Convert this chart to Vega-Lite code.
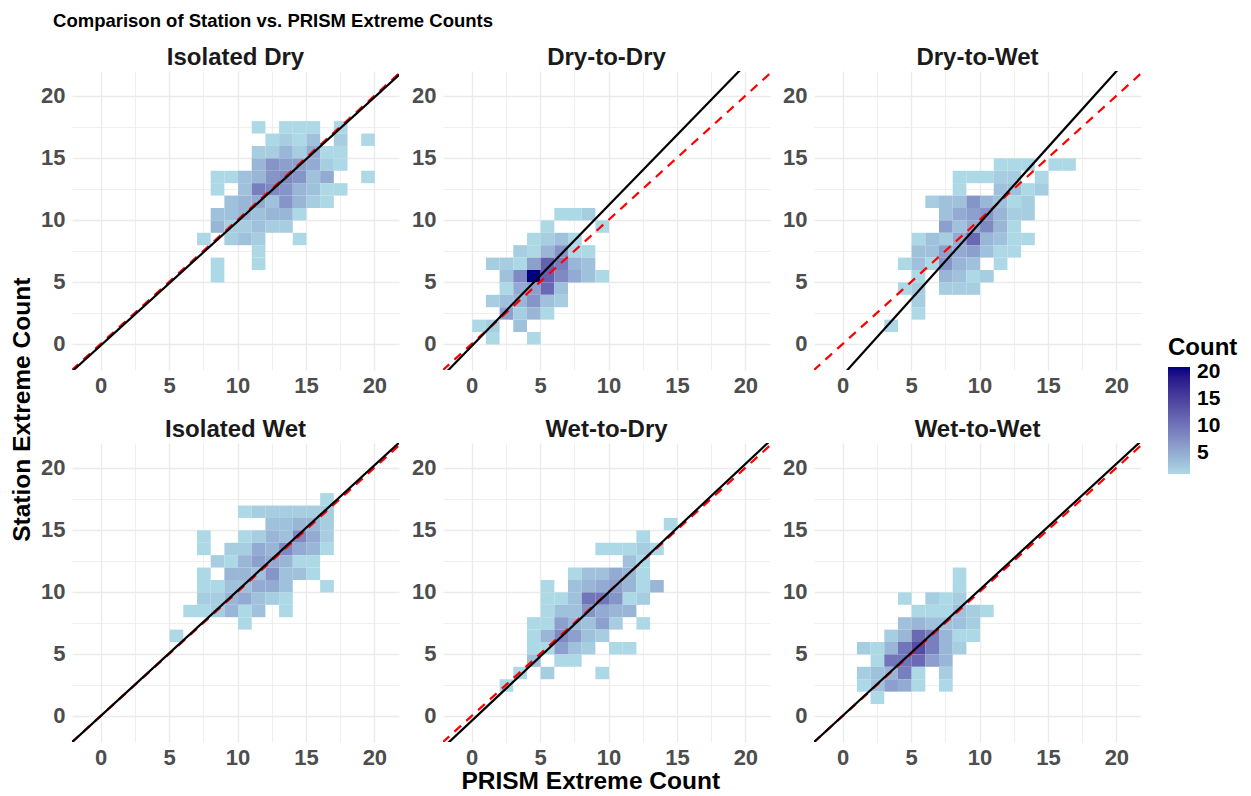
{
"$schema": "https://vega.github.io/schema/vega-lite/v6.json",
"background": "white",
"padding": {"left": 10, "top": 11, "right": 5, "bottom": 0},
"config": {
  "font": "Liberation Sans",
  "view": {"stroke": null},
  "axis": {"ticks": false, "domain": false, "grid": true, "zindex": 0, "labelFontSize": 22, "labelFontWeight": "bold", "labelColor": "#4D4D4D", "gridColor": "#EBEBEB", "labelOverlap": false, "labelFlush": false},
  "axisX": {"labelPadding": 5},
  "axisY": {"labelPadding": 7}
},
"title": {"text": "Comparison of Station vs. PRISM Extreme Counts", "anchor": "start", "fontSize": 18.5, "fontWeight": "bold", "color": "black", "dx": 43, "offset": 16},
"vconcat": [{
  "title": {"text": "Station Extreme Count", "orient": "left", "anchor": "middle", "fontSize": 24.5, "fontWeight": "bold", "color": "black", "offset": 5, "dx": 10},
  "vconcat": [{
    "title": {"text": "PRISM Extreme Count", "orient": "bottom", "anchor": "middle", "fontSize": 24.5, "fontWeight": "bold", "color": "black", "offset": 2},
    "data": {"values": [
{"p":"Isolated Dry","k":"c","x":11,"y":17,"n":1},{"p":"Isolated Dry","k":"c","x":13,"y":17,"n":1},{"p":"Isolated Dry","k":"c","x":14,"y":17,"n":1},{"p":"Isolated Dry","k":"c","x":15,"y":17,"n":1},{"p":"Isolated Dry","k":"c","x":17,"y":17,"n":1},
{"p":"Isolated Dry","k":"c","x":12,"y":16,"n":1},{"p":"Isolated Dry","k":"c","x":13,"y":16,"n":2},{"p":"Isolated Dry","k":"c","x":14,"y":16,"n":1},{"p":"Isolated Dry","k":"c","x":15,"y":16,"n":3},{"p":"Isolated Dry","k":"c","x":17,"y":16,"n":2},{"p":"Isolated Dry","k":"c","x":19,"y":16,"n":1},
{"p":"Isolated Dry","k":"c","x":11,"y":15,"n":2},{"p":"Isolated Dry","k":"c","x":12,"y":15,"n":2},{"p":"Isolated Dry","k":"c","x":13,"y":15,"n":4},{"p":"Isolated Dry","k":"c","x":14,"y":15,"n":2},{"p":"Isolated Dry","k":"c","x":15,"y":15,"n":5},{"p":"Isolated Dry","k":"c","x":16,"y":15,"n":1},{"p":"Isolated Dry","k":"c","x":17,"y":15,"n":1},
{"p":"Isolated Dry","k":"c","x":11,"y":14,"n":4},{"p":"Isolated Dry","k":"c","x":12,"y":14,"n":7},{"p":"Isolated Dry","k":"c","x":13,"y":14,"n":6},{"p":"Isolated Dry","k":"c","x":14,"y":14,"n":6},{"p":"Isolated Dry","k":"c","x":15,"y":14,"n":5},{"p":"Isolated Dry","k":"c","x":16,"y":14,"n":2},{"p":"Isolated Dry","k":"c","x":17,"y":14,"n":1},
{"p":"Isolated Dry","k":"c","x":8,"y":13,"n":1},{"p":"Isolated Dry","k":"c","x":9,"y":13,"n":1},{"p":"Isolated Dry","k":"c","x":10,"y":13,"n":3},{"p":"Isolated Dry","k":"c","x":11,"y":13,"n":4},{"p":"Isolated Dry","k":"c","x":12,"y":13,"n":7},{"p":"Isolated Dry","k":"c","x":13,"y":13,"n":8},{"p":"Isolated Dry","k":"c","x":14,"y":13,"n":7},{"p":"Isolated Dry","k":"c","x":15,"y":13,"n":3},{"p":"Isolated Dry","k":"c","x":16,"y":13,"n":5},{"p":"Isolated Dry","k":"c","x":19,"y":13,"n":1},
{"p":"Isolated Dry","k":"c","x":8,"y":12,"n":1},{"p":"Isolated Dry","k":"c","x":10,"y":12,"n":3},{"p":"Isolated Dry","k":"c","x":11,"y":12,"n":9},{"p":"Isolated Dry","k":"c","x":12,"y":12,"n":8},{"p":"Isolated Dry","k":"c","x":13,"y":12,"n":7},{"p":"Isolated Dry","k":"c","x":14,"y":12,"n":4},{"p":"Isolated Dry","k":"c","x":15,"y":12,"n":3},{"p":"Isolated Dry","k":"c","x":16,"y":12,"n":1},{"p":"Isolated Dry","k":"c","x":17,"y":12,"n":1},
{"p":"Isolated Dry","k":"c","x":9,"y":11,"n":3},{"p":"Isolated Dry","k":"c","x":10,"y":11,"n":4},{"p":"Isolated Dry","k":"c","x":11,"y":11,"n":5},{"p":"Isolated Dry","k":"c","x":12,"y":11,"n":3},{"p":"Isolated Dry","k":"c","x":13,"y":11,"n":7},{"p":"Isolated Dry","k":"c","x":14,"y":11,"n":4},{"p":"Isolated Dry","k":"c","x":15,"y":11,"n":2},{"p":"Isolated Dry","k":"c","x":16,"y":11,"n":1},
{"p":"Isolated Dry","k":"c","x":8,"y":10,"n":3},{"p":"Isolated Dry","k":"c","x":9,"y":10,"n":3},{"p":"Isolated Dry","k":"c","x":10,"y":10,"n":4},{"p":"Isolated Dry","k":"c","x":11,"y":10,"n":3},{"p":"Isolated Dry","k":"c","x":12,"y":10,"n":4},{"p":"Isolated Dry","k":"c","x":13,"y":10,"n":4},{"p":"Isolated Dry","k":"c","x":14,"y":10,"n":1},
{"p":"Isolated Dry","k":"c","x":8,"y":9,"n":4},{"p":"Isolated Dry","k":"c","x":9,"y":9,"n":2},{"p":"Isolated Dry","k":"c","x":10,"y":9,"n":2},{"p":"Isolated Dry","k":"c","x":11,"y":9,"n":3},{"p":"Isolated Dry","k":"c","x":12,"y":9,"n":2},{"p":"Isolated Dry","k":"c","x":13,"y":9,"n":2},
{"p":"Isolated Dry","k":"c","x":7,"y":8,"n":1},{"p":"Isolated Dry","k":"c","x":9,"y":8,"n":2},{"p":"Isolated Dry","k":"c","x":10,"y":8,"n":3},{"p":"Isolated Dry","k":"c","x":11,"y":8,"n":2},{"p":"Isolated Dry","k":"c","x":14,"y":8,"n":1},
{"p":"Isolated Dry","k":"c","x":11,"y":7,"n":1},{"p":"Isolated Dry","k":"c","x":8,"y":6,"n":1},{"p":"Isolated Dry","k":"c","x":11,"y":6,"n":1},{"p":"Isolated Dry","k":"c","x":8,"y":5,"n":1},

{"p":"Dry-to-Dry","k":"c","x":6,"y":10,"n":1},{"p":"Dry-to-Dry","k":"c","x":7,"y":10,"n":1},{"p":"Dry-to-Dry","k":"c","x":8,"y":10,"n":2},
{"p":"Dry-to-Dry","k":"c","x":5,"y":9,"n":1},{"p":"Dry-to-Dry","k":"c","x":9,"y":9,"n":1},
{"p":"Dry-to-Dry","k":"c","x":4,"y":8,"n":1},{"p":"Dry-to-Dry","k":"c","x":5,"y":8,"n":2},{"p":"Dry-to-Dry","k":"c","x":6,"y":8,"n":3},{"p":"Dry-to-Dry","k":"c","x":7,"y":8,"n":1},
{"p":"Dry-to-Dry","k":"c","x":3,"y":7,"n":2},{"p":"Dry-to-Dry","k":"c","x":4,"y":7,"n":1},{"p":"Dry-to-Dry","k":"c","x":5,"y":7,"n":4},{"p":"Dry-to-Dry","k":"c","x":6,"y":7,"n":7},{"p":"Dry-to-Dry","k":"c","x":7,"y":7,"n":1},{"p":"Dry-to-Dry","k":"c","x":8,"y":7,"n":1},
{"p":"Dry-to-Dry","k":"c","x":1,"y":6,"n":2},{"p":"Dry-to-Dry","k":"c","x":2,"y":6,"n":2},{"p":"Dry-to-Dry","k":"c","x":3,"y":6,"n":1},{"p":"Dry-to-Dry","k":"c","x":4,"y":6,"n":6},{"p":"Dry-to-Dry","k":"c","x":5,"y":6,"n":12},{"p":"Dry-to-Dry","k":"c","x":6,"y":6,"n":9},{"p":"Dry-to-Dry","k":"c","x":7,"y":6,"n":4},{"p":"Dry-to-Dry","k":"c","x":8,"y":6,"n":3},
{"p":"Dry-to-Dry","k":"c","x":2,"y":5,"n":3},{"p":"Dry-to-Dry","k":"c","x":3,"y":5,"n":8},{"p":"Dry-to-Dry","k":"c","x":4,"y":5,"n":21},{"p":"Dry-to-Dry","k":"c","x":5,"y":5,"n":12},{"p":"Dry-to-Dry","k":"c","x":6,"y":5,"n":8},{"p":"Dry-to-Dry","k":"c","x":7,"y":5,"n":5},{"p":"Dry-to-Dry","k":"c","x":8,"y":5,"n":3},{"p":"Dry-to-Dry","k":"c","x":9,"y":5,"n":1},
{"p":"Dry-to-Dry","k":"c","x":2,"y":4,"n":1},{"p":"Dry-to-Dry","k":"c","x":3,"y":4,"n":5},{"p":"Dry-to-Dry","k":"c","x":4,"y":4,"n":6},{"p":"Dry-to-Dry","k":"c","x":5,"y":4,"n":11},{"p":"Dry-to-Dry","k":"c","x":6,"y":4,"n":3},
{"p":"Dry-to-Dry","k":"c","x":1,"y":3,"n":2},{"p":"Dry-to-Dry","k":"c","x":2,"y":3,"n":3},{"p":"Dry-to-Dry","k":"c","x":3,"y":3,"n":4},{"p":"Dry-to-Dry","k":"c","x":4,"y":3,"n":7},{"p":"Dry-to-Dry","k":"c","x":5,"y":3,"n":3},{"p":"Dry-to-Dry","k":"c","x":6,"y":3,"n":2},
{"p":"Dry-to-Dry","k":"c","x":2,"y":2,"n":6},{"p":"Dry-to-Dry","k":"c","x":3,"y":2,"n":2},{"p":"Dry-to-Dry","k":"c","x":4,"y":2,"n":4},{"p":"Dry-to-Dry","k":"c","x":5,"y":2,"n":1},
{"p":"Dry-to-Dry","k":"c","x":0,"y":1,"n":1},{"p":"Dry-to-Dry","k":"c","x":1,"y":1,"n":2},{"p":"Dry-to-Dry","k":"c","x":3,"y":1,"n":3},
{"p":"Dry-to-Dry","k":"c","x":1,"y":0,"n":1},{"p":"Dry-to-Dry","k":"c","x":4,"y":0,"n":1},

{"p":"Dry-to-Wet","k":"c","x":11,"y":14,"n":1},{"p":"Dry-to-Wet","k":"c","x":12,"y":14,"n":1},{"p":"Dry-to-Wet","k":"c","x":13,"y":14,"n":1},{"p":"Dry-to-Wet","k":"c","x":15,"y":14,"n":1},{"p":"Dry-to-Wet","k":"c","x":16,"y":14,"n":1},
{"p":"Dry-to-Wet","k":"c","x":8,"y":13,"n":1},{"p":"Dry-to-Wet","k":"c","x":9,"y":13,"n":1},{"p":"Dry-to-Wet","k":"c","x":10,"y":13,"n":1},{"p":"Dry-to-Wet","k":"c","x":11,"y":13,"n":2},{"p":"Dry-to-Wet","k":"c","x":12,"y":13,"n":2},{"p":"Dry-to-Wet","k":"c","x":14,"y":13,"n":1},
{"p":"Dry-to-Wet","k":"c","x":8,"y":12,"n":1},{"p":"Dry-to-Wet","k":"c","x":11,"y":12,"n":3},{"p":"Dry-to-Wet","k":"c","x":12,"y":12,"n":3},{"p":"Dry-to-Wet","k":"c","x":13,"y":12,"n":1},{"p":"Dry-to-Wet","k":"c","x":14,"y":12,"n":2},
{"p":"Dry-to-Wet","k":"c","x":6,"y":11,"n":2},{"p":"Dry-to-Wet","k":"c","x":7,"y":11,"n":3},{"p":"Dry-to-Wet","k":"c","x":8,"y":11,"n":3},{"p":"Dry-to-Wet","k":"c","x":9,"y":11,"n":7},{"p":"Dry-to-Wet","k":"c","x":10,"y":11,"n":4},{"p":"Dry-to-Wet","k":"c","x":11,"y":11,"n":3},{"p":"Dry-to-Wet","k":"c","x":12,"y":11,"n":1},{"p":"Dry-to-Wet","k":"c","x":13,"y":11,"n":2},
{"p":"Dry-to-Wet","k":"c","x":7,"y":10,"n":3},{"p":"Dry-to-Wet","k":"c","x":8,"y":10,"n":5},{"p":"Dry-to-Wet","k":"c","x":9,"y":10,"n":6},{"p":"Dry-to-Wet","k":"c","x":10,"y":10,"n":7},{"p":"Dry-to-Wet","k":"c","x":11,"y":10,"n":4},{"p":"Dry-to-Wet","k":"c","x":12,"y":10,"n":2},{"p":"Dry-to-Wet","k":"c","x":13,"y":10,"n":2},
{"p":"Dry-to-Wet","k":"c","x":7,"y":9,"n":6},{"p":"Dry-to-Wet","k":"c","x":8,"y":9,"n":3},{"p":"Dry-to-Wet","k":"c","x":9,"y":9,"n":5},{"p":"Dry-to-Wet","k":"c","x":10,"y":9,"n":8},{"p":"Dry-to-Wet","k":"c","x":11,"y":9,"n":4},{"p":"Dry-to-Wet","k":"c","x":12,"y":9,"n":1},
{"p":"Dry-to-Wet","k":"c","x":5,"y":8,"n":1},{"p":"Dry-to-Wet","k":"c","x":6,"y":8,"n":3},{"p":"Dry-to-Wet","k":"c","x":7,"y":8,"n":2},{"p":"Dry-to-Wet","k":"c","x":8,"y":8,"n":5},{"p":"Dry-to-Wet","k":"c","x":9,"y":8,"n":11},{"p":"Dry-to-Wet","k":"c","x":10,"y":8,"n":4},{"p":"Dry-to-Wet","k":"c","x":11,"y":8,"n":3},{"p":"Dry-to-Wet","k":"c","x":12,"y":8,"n":1},{"p":"Dry-to-Wet","k":"c","x":13,"y":8,"n":1},
{"p":"Dry-to-Wet","k":"c","x":5,"y":7,"n":3},{"p":"Dry-to-Wet","k":"c","x":6,"y":7,"n":3},{"p":"Dry-to-Wet","k":"c","x":7,"y":7,"n":6},{"p":"Dry-to-Wet","k":"c","x":8,"y":7,"n":5},{"p":"Dry-to-Wet","k":"c","x":9,"y":7,"n":6},{"p":"Dry-to-Wet","k":"c","x":10,"y":7,"n":3},{"p":"Dry-to-Wet","k":"c","x":11,"y":7,"n":1},{"p":"Dry-to-Wet","k":"c","x":12,"y":7,"n":1},
{"p":"Dry-to-Wet","k":"c","x":4,"y":6,"n":1},{"p":"Dry-to-Wet","k":"c","x":5,"y":6,"n":3},{"p":"Dry-to-Wet","k":"c","x":6,"y":6,"n":1},{"p":"Dry-to-Wet","k":"c","x":7,"y":6,"n":7},{"p":"Dry-to-Wet","k":"c","x":8,"y":6,"n":4},{"p":"Dry-to-Wet","k":"c","x":9,"y":6,"n":3},{"p":"Dry-to-Wet","k":"c","x":11,"y":6,"n":1},
{"p":"Dry-to-Wet","k":"c","x":5,"y":5,"n":1},{"p":"Dry-to-Wet","k":"c","x":7,"y":5,"n":4},{"p":"Dry-to-Wet","k":"c","x":8,"y":5,"n":3},{"p":"Dry-to-Wet","k":"c","x":9,"y":5,"n":1},{"p":"Dry-to-Wet","k":"c","x":10,"y":5,"n":2},
{"p":"Dry-to-Wet","k":"c","x":4,"y":4,"n":1},{"p":"Dry-to-Wet","k":"c","x":5,"y":4,"n":2},{"p":"Dry-to-Wet","k":"c","x":7,"y":4,"n":2},{"p":"Dry-to-Wet","k":"c","x":8,"y":4,"n":2},{"p":"Dry-to-Wet","k":"c","x":9,"y":4,"n":2},
{"p":"Dry-to-Wet","k":"c","x":5,"y":3,"n":2},{"p":"Dry-to-Wet","k":"c","x":5,"y":2,"n":1},{"p":"Dry-to-Wet","k":"c","x":3,"y":1,"n":1},

{"p":"Isolated Wet","k":"c","x":16,"y":17,"n":1},
{"p":"Isolated Wet","k":"c","x":10,"y":16,"n":1},{"p":"Isolated Wet","k":"c","x":11,"y":16,"n":2},{"p":"Isolated Wet","k":"c","x":12,"y":16,"n":2},{"p":"Isolated Wet","k":"c","x":13,"y":16,"n":2},{"p":"Isolated Wet","k":"c","x":14,"y":16,"n":2},{"p":"Isolated Wet","k":"c","x":15,"y":16,"n":2},{"p":"Isolated Wet","k":"c","x":16,"y":16,"n":2},
{"p":"Isolated Wet","k":"c","x":12,"y":15,"n":3},{"p":"Isolated Wet","k":"c","x":13,"y":15,"n":3},{"p":"Isolated Wet","k":"c","x":14,"y":15,"n":4},{"p":"Isolated Wet","k":"c","x":15,"y":15,"n":4},{"p":"Isolated Wet","k":"c","x":16,"y":15,"n":2},
{"p":"Isolated Wet","k":"c","x":7,"y":14,"n":1},{"p":"Isolated Wet","k":"c","x":10,"y":14,"n":1},{"p":"Isolated Wet","k":"c","x":11,"y":14,"n":2},{"p":"Isolated Wet","k":"c","x":12,"y":14,"n":4},{"p":"Isolated Wet","k":"c","x":13,"y":14,"n":3},{"p":"Isolated Wet","k":"c","x":14,"y":14,"n":8},{"p":"Isolated Wet","k":"c","x":15,"y":14,"n":5},{"p":"Isolated Wet","k":"c","x":16,"y":14,"n":2},
{"p":"Isolated Wet","k":"c","x":7,"y":13,"n":1},{"p":"Isolated Wet","k":"c","x":9,"y":13,"n":2},{"p":"Isolated Wet","k":"c","x":10,"y":13,"n":2},{"p":"Isolated Wet","k":"c","x":11,"y":13,"n":5},{"p":"Isolated Wet","k":"c","x":12,"y":13,"n":4},{"p":"Isolated Wet","k":"c","x":13,"y":13,"n":8},{"p":"Isolated Wet","k":"c","x":14,"y":13,"n":5},{"p":"Isolated Wet","k":"c","x":15,"y":13,"n":4},{"p":"Isolated Wet","k":"c","x":16,"y":13,"n":1},
{"p":"Isolated Wet","k":"c","x":8,"y":12,"n":2},{"p":"Isolated Wet","k":"c","x":9,"y":12,"n":1},{"p":"Isolated Wet","k":"c","x":10,"y":12,"n":4},{"p":"Isolated Wet","k":"c","x":11,"y":12,"n":6},{"p":"Isolated Wet","k":"c","x":12,"y":12,"n":5},{"p":"Isolated Wet","k":"c","x":13,"y":12,"n":4},{"p":"Isolated Wet","k":"c","x":14,"y":12,"n":1},{"p":"Isolated Wet","k":"c","x":15,"y":12,"n":1},
{"p":"Isolated Wet","k":"c","x":7,"y":11,"n":1},{"p":"Isolated Wet","k":"c","x":9,"y":11,"n":4},{"p":"Isolated Wet","k":"c","x":10,"y":11,"n":4},{"p":"Isolated Wet","k":"c","x":11,"y":11,"n":3},{"p":"Isolated Wet","k":"c","x":12,"y":11,"n":7},{"p":"Isolated Wet","k":"c","x":13,"y":11,"n":3},{"p":"Isolated Wet","k":"c","x":14,"y":11,"n":3},{"p":"Isolated Wet","k":"c","x":15,"y":11,"n":1},
{"p":"Isolated Wet","k":"c","x":7,"y":10,"n":1},{"p":"Isolated Wet","k":"c","x":8,"y":10,"n":1},{"p":"Isolated Wet","k":"c","x":9,"y":10,"n":3},{"p":"Isolated Wet","k":"c","x":10,"y":10,"n":3},{"p":"Isolated Wet","k":"c","x":11,"y":10,"n":5},{"p":"Isolated Wet","k":"c","x":12,"y":10,"n":5},{"p":"Isolated Wet","k":"c","x":13,"y":10,"n":3},{"p":"Isolated Wet","k":"c","x":16,"y":10,"n":1},
{"p":"Isolated Wet","k":"c","x":7,"y":9,"n":2},{"p":"Isolated Wet","k":"c","x":8,"y":9,"n":2},{"p":"Isolated Wet","k":"c","x":9,"y":9,"n":4},{"p":"Isolated Wet","k":"c","x":10,"y":9,"n":5},{"p":"Isolated Wet","k":"c","x":11,"y":9,"n":3},{"p":"Isolated Wet","k":"c","x":12,"y":9,"n":2},{"p":"Isolated Wet","k":"c","x":13,"y":9,"n":1},
{"p":"Isolated Wet","k":"c","x":6,"y":8,"n":1},{"p":"Isolated Wet","k":"c","x":7,"y":8,"n":1},{"p":"Isolated Wet","k":"c","x":8,"y":8,"n":2},{"p":"Isolated Wet","k":"c","x":9,"y":8,"n":4},{"p":"Isolated Wet","k":"c","x":10,"y":8,"n":1},{"p":"Isolated Wet","k":"c","x":11,"y":8,"n":3},{"p":"Isolated Wet","k":"c","x":13,"y":8,"n":1},
{"p":"Isolated Wet","k":"c","x":10,"y":7,"n":1},{"p":"Isolated Wet","k":"c","x":5,"y":6,"n":1},

{"p":"Wet-to-Dry","k":"c","x":14,"y":15,"n":1},{"p":"Wet-to-Dry","k":"c","x":12,"y":14,"n":1},
{"p":"Wet-to-Dry","k":"c","x":9,"y":13,"n":1},{"p":"Wet-to-Dry","k":"c","x":10,"y":13,"n":1},{"p":"Wet-to-Dry","k":"c","x":11,"y":13,"n":1},{"p":"Wet-to-Dry","k":"c","x":12,"y":13,"n":2},{"p":"Wet-to-Dry","k":"c","x":13,"y":13,"n":1},
{"p":"Wet-to-Dry","k":"c","x":11,"y":12,"n":3},{"p":"Wet-to-Dry","k":"c","x":12,"y":12,"n":1},
{"p":"Wet-to-Dry","k":"c","x":7,"y":11,"n":1},{"p":"Wet-to-Dry","k":"c","x":8,"y":11,"n":3},{"p":"Wet-to-Dry","k":"c","x":9,"y":11,"n":3},{"p":"Wet-to-Dry","k":"c","x":10,"y":11,"n":5},{"p":"Wet-to-Dry","k":"c","x":11,"y":11,"n":4},{"p":"Wet-to-Dry","k":"c","x":12,"y":11,"n":1},
{"p":"Wet-to-Dry","k":"c","x":5,"y":10,"n":1},{"p":"Wet-to-Dry","k":"c","x":7,"y":10,"n":3},{"p":"Wet-to-Dry","k":"c","x":8,"y":10,"n":4},{"p":"Wet-to-Dry","k":"c","x":9,"y":10,"n":5},{"p":"Wet-to-Dry","k":"c","x":10,"y":10,"n":6},{"p":"Wet-to-Dry","k":"c","x":11,"y":10,"n":4},{"p":"Wet-to-Dry","k":"c","x":12,"y":10,"n":1},{"p":"Wet-to-Dry","k":"c","x":13,"y":10,"n":4},
{"p":"Wet-to-Dry","k":"c","x":5,"y":9,"n":1},{"p":"Wet-to-Dry","k":"c","x":6,"y":9,"n":1},{"p":"Wet-to-Dry","k":"c","x":7,"y":9,"n":3},{"p":"Wet-to-Dry","k":"c","x":8,"y":9,"n":10},{"p":"Wet-to-Dry","k":"c","x":9,"y":9,"n":10},{"p":"Wet-to-Dry","k":"c","x":10,"y":9,"n":7},{"p":"Wet-to-Dry","k":"c","x":11,"y":9,"n":1},{"p":"Wet-to-Dry","k":"c","x":12,"y":9,"n":2},
{"p":"Wet-to-Dry","k":"c","x":5,"y":8,"n":1},{"p":"Wet-to-Dry","k":"c","x":6,"y":8,"n":3},{"p":"Wet-to-Dry","k":"c","x":7,"y":8,"n":3},{"p":"Wet-to-Dry","k":"c","x":8,"y":8,"n":7},{"p":"Wet-to-Dry","k":"c","x":9,"y":8,"n":5},{"p":"Wet-to-Dry","k":"c","x":10,"y":8,"n":4},{"p":"Wet-to-Dry","k":"c","x":11,"y":8,"n":4},
{"p":"Wet-to-Dry","k":"c","x":4,"y":7,"n":1},{"p":"Wet-to-Dry","k":"c","x":5,"y":7,"n":1},{"p":"Wet-to-Dry","k":"c","x":6,"y":7,"n":6},{"p":"Wet-to-Dry","k":"c","x":7,"y":7,"n":4},{"p":"Wet-to-Dry","k":"c","x":8,"y":7,"n":3},{"p":"Wet-to-Dry","k":"c","x":9,"y":7,"n":6},{"p":"Wet-to-Dry","k":"c","x":10,"y":7,"n":2},{"p":"Wet-to-Dry","k":"c","x":12,"y":7,"n":1},
{"p":"Wet-to-Dry","k":"c","x":4,"y":6,"n":1},{"p":"Wet-to-Dry","k":"c","x":5,"y":6,"n":4},{"p":"Wet-to-Dry","k":"c","x":6,"y":6,"n":8},{"p":"Wet-to-Dry","k":"c","x":7,"y":6,"n":6},{"p":"Wet-to-Dry","k":"c","x":8,"y":6,"n":3},{"p":"Wet-to-Dry","k":"c","x":9,"y":6,"n":2},
{"p":"Wet-to-Dry","k":"c","x":4,"y":5,"n":1},{"p":"Wet-to-Dry","k":"c","x":5,"y":5,"n":1},{"p":"Wet-to-Dry","k":"c","x":6,"y":5,"n":6},{"p":"Wet-to-Dry","k":"c","x":7,"y":5,"n":3},{"p":"Wet-to-Dry","k":"c","x":8,"y":5,"n":2},{"p":"Wet-to-Dry","k":"c","x":10,"y":5,"n":1},{"p":"Wet-to-Dry","k":"c","x":11,"y":5,"n":1},
{"p":"Wet-to-Dry","k":"c","x":4,"y":4,"n":3},{"p":"Wet-to-Dry","k":"c","x":6,"y":4,"n":1},{"p":"Wet-to-Dry","k":"c","x":7,"y":4,"n":1},
{"p":"Wet-to-Dry","k":"c","x":3,"y":3,"n":1},{"p":"Wet-to-Dry","k":"c","x":5,"y":3,"n":2},{"p":"Wet-to-Dry","k":"c","x":9,"y":3,"n":1},{"p":"Wet-to-Dry","k":"c","x":2,"y":2,"n":1},

{"p":"Wet-to-Wet","k":"c","x":8,"y":11,"n":1},{"p":"Wet-to-Wet","k":"c","x":8,"y":10,"n":1},
{"p":"Wet-to-Wet","k":"c","x":4,"y":9,"n":1},{"p":"Wet-to-Wet","k":"c","x":6,"y":9,"n":2},{"p":"Wet-to-Wet","k":"c","x":7,"y":9,"n":1},{"p":"Wet-to-Wet","k":"c","x":8,"y":9,"n":2},
{"p":"Wet-to-Wet","k":"c","x":5,"y":8,"n":1},{"p":"Wet-to-Wet","k":"c","x":6,"y":8,"n":1},{"p":"Wet-to-Wet","k":"c","x":7,"y":8,"n":1},{"p":"Wet-to-Wet","k":"c","x":8,"y":8,"n":3},{"p":"Wet-to-Wet","k":"c","x":9,"y":8,"n":2},{"p":"Wet-to-Wet","k":"c","x":10,"y":8,"n":1},
{"p":"Wet-to-Wet","k":"c","x":4,"y":7,"n":3},{"p":"Wet-to-Wet","k":"c","x":5,"y":7,"n":4},{"p":"Wet-to-Wet","k":"c","x":6,"y":7,"n":3},{"p":"Wet-to-Wet","k":"c","x":7,"y":7,"n":3},{"p":"Wet-to-Wet","k":"c","x":8,"y":7,"n":3},{"p":"Wet-to-Wet","k":"c","x":9,"y":7,"n":2},
{"p":"Wet-to-Wet","k":"c","x":3,"y":6,"n":2},{"p":"Wet-to-Wet","k":"c","x":4,"y":6,"n":4},{"p":"Wet-to-Wet","k":"c","x":5,"y":6,"n":11},{"p":"Wet-to-Wet","k":"c","x":6,"y":6,"n":9},{"p":"Wet-to-Wet","k":"c","x":7,"y":6,"n":4},{"p":"Wet-to-Wet","k":"c","x":8,"y":6,"n":1},{"p":"Wet-to-Wet","k":"c","x":9,"y":6,"n":1},
{"p":"Wet-to-Wet","k":"c","x":1,"y":5,"n":2},{"p":"Wet-to-Wet","k":"c","x":2,"y":5,"n":1},{"p":"Wet-to-Wet","k":"c","x":3,"y":5,"n":4},{"p":"Wet-to-Wet","k":"c","x":4,"y":5,"n":10},{"p":"Wet-to-Wet","k":"c","x":5,"y":5,"n":14},{"p":"Wet-to-Wet","k":"c","x":6,"y":5,"n":9},{"p":"Wet-to-Wet","k":"c","x":7,"y":5,"n":4},{"p":"Wet-to-Wet","k":"c","x":8,"y":5,"n":2},
{"p":"Wet-to-Wet","k":"c","x":2,"y":4,"n":1},{"p":"Wet-to-Wet","k":"c","x":3,"y":4,"n":10},{"p":"Wet-to-Wet","k":"c","x":4,"y":4,"n":10},{"p":"Wet-to-Wet","k":"c","x":5,"y":4,"n":11},{"p":"Wet-to-Wet","k":"c","x":6,"y":4,"n":6},{"p":"Wet-to-Wet","k":"c","x":7,"y":4,"n":4},
{"p":"Wet-to-Wet","k":"c","x":1,"y":3,"n":2},{"p":"Wet-to-Wet","k":"c","x":2,"y":3,"n":3},{"p":"Wet-to-Wet","k":"c","x":3,"y":3,"n":4},{"p":"Wet-to-Wet","k":"c","x":4,"y":3,"n":9},{"p":"Wet-to-Wet","k":"c","x":5,"y":3,"n":1},{"p":"Wet-to-Wet","k":"c","x":7,"y":3,"n":2},
{"p":"Wet-to-Wet","k":"c","x":1,"y":2,"n":1},{"p":"Wet-to-Wet","k":"c","x":2,"y":2,"n":3},{"p":"Wet-to-Wet","k":"c","x":3,"y":2,"n":6},{"p":"Wet-to-Wet","k":"c","x":4,"y":2,"n":5},{"p":"Wet-to-Wet","k":"c","x":5,"y":2,"n":1},{"p":"Wet-to-Wet","k":"c","x":7,"y":2,"n":1},
{"p":"Wet-to-Wet","k":"c","x":2,"y":1,"n":1},

{"p":"Isolated Dry","k":"id","x":-3,"y":-3,"xe":23,"ye":23},
{"p":"Dry-to-Dry","k":"id","x":-3,"y":-3,"xe":23,"ye":23},
{"p":"Dry-to-Wet","k":"id","x":-3,"y":-3,"xe":23,"ye":23},
{"p":"Isolated Wet","k":"id","x":-3,"y":-3,"xe":23,"ye":23},
{"p":"Wet-to-Dry","k":"id","x":-3,"y":-3,"xe":23,"ye":23},
{"p":"Wet-to-Wet","k":"id","x":-3,"y":-3,"xe":23,"ye":23},
{"p":"Isolated Dry","k":"fit","x":-3,"y":-3.12,"xe":23,"ye":22.88},
{"p":"Dry-to-Dry","k":"fit","x":-3,"y":-3.572,"xe":23,"ye":25.912},
{"p":"Dry-to-Wet","k":"fit","x":-3,"y":-6.195,"xe":23,"ye":25.655},
{"p":"Isolated Wet","k":"fit","x":-3,"y":-3.03,"xe":23,"ye":23.23},
{"p":"Wet-to-Dry","k":"fit","x":-3,"y":-3.495,"xe":23,"ye":23.415},
{"p":"Wet-to-Wet","k":"fit","x":-3,"y":-3.025,"xe":23,"ye":23.365}
    ]},
    "facet": {"field": "p", "type": "nominal", "sort": ["Isolated Dry","Dry-to-Dry","Dry-to-Wet","Isolated Wet","Wet-to-Dry","Wet-to-Wet"], "header": {"title": null, "labelFontSize": 24, "labelFontWeight": "bold", "labelColor": "#1A1A1A", "labelPadding": 1}},
    "columns": 3,
    "spacing": {"row": 22, "column": 12},
    "resolve": {"axis": {"x": "independent", "y": "independent"}},
    "spec": {
      "width": 327, "height": 299,
      "layer": [
        {"transform": [{"filter": "datum.k === 'c'"}],
         "mark": {"type": "rect", "clip": true, "binSpacing": 0},
         "encoding": {
           "x": {"field": "x", "type": "quantitative", "bin": {"step": 1, "extent": [-5, 30]}, "scale": {"domain": [-2.1, 21.8], "nice": false, "zero": false},
                 "axis": {"title": null, "grid": true, "zindex": 0, "values": [0,2.5,5,7.5,10,12.5,15,17.5,20], "labelExpr": "datum.value % 5 === 0 ? datum.label : ''", "gridWidth": {"condition": {"test": "datum.value % 5 === 0", "value": 1.4}, "value": 0.8}}},
           "y": {"field": "y", "type": "quantitative", "bin": {"step": 1, "extent": [-5, 30]}, "scale": {"domain": [-2.1, 22.0], "nice": false, "zero": false},
                 "axis": {"title": null, "grid": true, "zindex": 0, "values": [0,2.5,5,7.5,10,12.5,15,17.5,20], "labelExpr": "datum.value % 5 === 0 ? datum.label : ''", "gridWidth": {"condition": {"test": "datum.value % 5 === 0", "value": 1.4}, "value": 0.8}}},
           "color": {"field": "n", "type": "quantitative", "scale": {"domain": [1, 21], "range": ["#ADD8E6", "#000080"], "interpolate": "lab", "nice": false, "zero": false},
                     "legend": {"title": "Count", "titleFontSize": 24, "titleFontWeight": "bold", "titleColor": "black", "titlePadding": 7, "labelFontSize": 21, "labelFontWeight": "bold", "labelColor": "black", "labelOffset": 7, "gradientLength": 107, "gradientThickness": 22, "gradientStrokeWidth": 0, "values": [5,10,15,20], "orient": "none", "legendX": 1096, "legendY": 265}}
         }},
        {"transform": [{"filter": "datum.k === 'id'"}],
         "mark": {"type": "rule", "color": "#FF0000", "strokeWidth": 2.2, "strokeDash": [9, 7], "clip": true},
         "encoding": {"x": {"field": "x", "type": "quantitative"}, "y": {"field": "y", "type": "quantitative"}, "x2": {"field": "xe"}, "y2": {"field": "ye"}}},
        {"transform": [{"filter": "datum.k === 'fit'"}],
         "mark": {"type": "rule", "color": "black", "strokeWidth": 2.2, "clip": true},
         "encoding": {"x": {"field": "x", "type": "quantitative"}, "y": {"field": "y", "type": "quantitative"}, "x2": {"field": "xe"}, "y2": {"field": "ye"}}}
      ]
    }
  }]
}]
}
